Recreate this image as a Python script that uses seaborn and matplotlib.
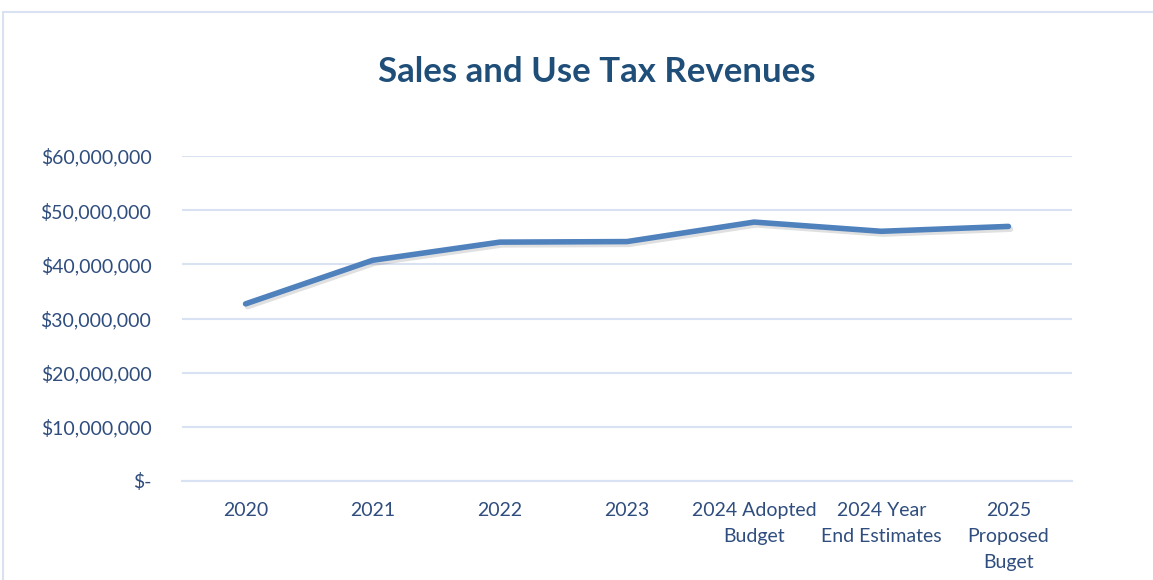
import matplotlib
matplotlib.use("Agg")
import matplotlib.pyplot as plt
import matplotlib.patheffects as pe
from matplotlib.patches import Rectangle
from matplotlib.ticker import FixedLocator, FuncFormatter
import seaborn as sns
import pandas as pd

categories = ["2020", "2021", "2022", "2023", "2024 Adopted\nBudget",
              "2024 Year\nEnd Estimates", "2025\nProposed\nBuget"]
revenues = [32_700_000, 40_750_000, 44_100_000, 44_200_000,
            47_800_000, 46_100_000, 47_000_000]
y_ticks = [0, 10_000_000, 20_000_000, 30_000_000, 40_000_000,
           50_000_000, 60_000_000]
title = "Sales and Use Tax Revenues"

sns.set_theme(style="white")
plt.rcParams["font.family"] = ["Lato", "DejaVu Sans"]

text_color = "#2F4D7E"
title_color = "#1F4E79"
grid_color = "#D9E2F3"
line_color = "#4F81BD"

df = pd.DataFrame({"category": categories, "revenue": revenues})

fig = plt.figure(figsize=(11.53, 5.8), dpi=100)
ax = fig.add_axes([182 / 1153, 99 / 580, 890 / 1153, 325 / 580])

# chart frame
fig.patches.append(Rectangle((3 / 1153, -0.05), 1.2, (580 - 12) / 580 + 0.05,
                             transform=fig.transFigure, fill=False,
                             edgecolor=grid_color, linewidth=1.5, zorder=0))

sns.lineplot(data=df, x="category", y="revenue", ax=ax, color=line_color,
             linewidth=4, sort=False, solid_capstyle="round",
             solid_joinstyle="round",
             path_effects=[pe.SimpleLineShadow(offset=(1.5, -2), shadow_color="black",
                                               alpha=0.12),
                           pe.Normal()])

ax.set_xlim(-0.5, len(categories) - 0.5)
ax.set_ylim(0, 60_000_000)
ax.yaxis.set_major_locator(FixedLocator(y_ticks))
ax.yaxis.set_major_formatter(FuncFormatter(
    lambda v, _: "$-" if v == 0 else f"${v:,.0f}"))
ax.grid(axis="y", color=grid_color, linewidth=1.5)
ax.set_axisbelow(True)

for side in ["top", "right", "left"]:
    ax.spines[side].set_visible(False)
ax.spines["bottom"].set_color(grid_color)
ax.spines["bottom"].set_linewidth(1.5)

ax.set_xticks(range(len(categories)))
ax.set_xticklabels(categories, linespacing=1.65)
ax.set_xticks([i - 0.5 for i in range(len(categories) + 1)], minor=True)
ax.tick_params(axis="x", which="major", length=0, pad=15,
               labelsize=14, labelcolor=text_color)
ax.tick_params(axis="x", which="minor", length=6, width=1.5,
               color=grid_color, direction="out")
ax.tick_params(axis="y", length=0, pad=22, labelsize=14, labelcolor=text_color)
for lbl in ax.get_xticklabels():
    lbl.set_verticalalignment("top")

ax.set_xlabel("")
ax.set_ylabel("")

fig.text(597 / 1153, 1 - 72 / 580, title, ha="center", va="center",
         fontsize=25, fontweight="bold", color=title_color)

fig.savefig("out.png", dpi=100, facecolor="white")
